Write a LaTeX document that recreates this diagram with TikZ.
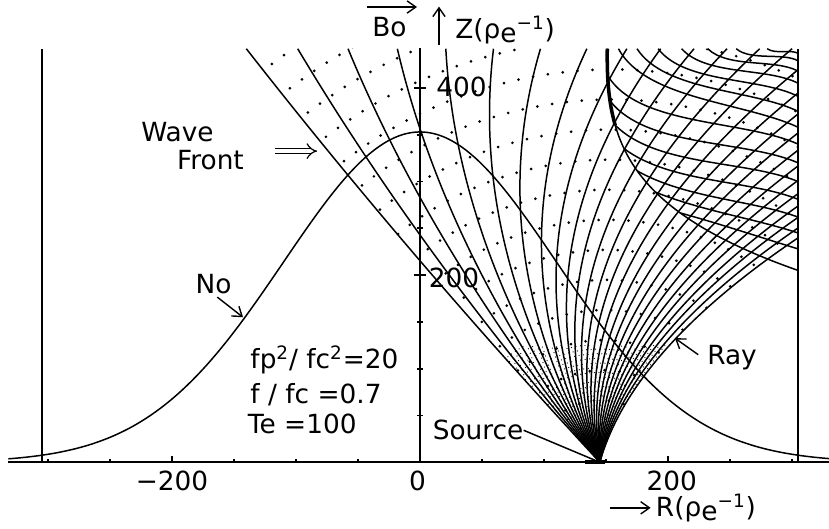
\documentclass[tikz,border=0pt]{standalone}
\usepackage{fontspec}
\setmainfont{DejaVu Sans}
\usetikzlibrary{arrows.meta}

\begin{document}
\begin{tikzpicture}[x=0.0248cm, y=0.0187cm,
  ray/.style={line width=0.85pt},
  axis/.style={line width=1pt},
  front/.style={line width=1.7pt, line cap=round, dash pattern=on 0pt off 8.5pt},
  speck/.style={line width=0.7pt, line cap=round, dash pattern=on 0pt off 2.6pt},
  lbl/.style={inner sep=0pt, font=\fontsize{15}{17}\selectfont},
  barb/.style={line width=0.8pt, -{Straight Barb[length=5pt,width=7pt]}}]
\useasboundingbox (-338.7,-70.6) rectangle (329.8,494.1);

% frame and axes
\draw[axis] (-332,0) -- (330,0);
\draw[axis] (-305,0) -- (-305,442);
\draw[axis] (305,0) -- (305,442);
\draw[axis] (0,0) -- (0,443);
\foreach \r in {-300,-250,...,300} \draw[axis] (\r,0) -- (\r,3);
\foreach \r in {-200,200} \draw[axis] (\r,0) -- (\r,7);
\foreach \z in {50,100,...,400} \draw[axis] (-2.5,\z) -- (2.5,\z);
\foreach \z in {200,400} \draw[axis] (-5,\z) -- (5,\z);

% density profile No
\draw[ray] plot[domain=-332:330, samples=150, smooth] (\x, {353*exp(-0.5*(\x/110)*(\x/110))});

% source
\coordinate (src) at (145,0);
\draw[line width=2.4pt] (133,0) -- (149,0);

% wave fronts
\begin{scope}
\clip plot[domain=0:442, samples=30] ({145-0.7002*\x+1.25*(\x/100)*(\x/100)}, \x) -- (305,442) -- (305,240)
  -- plot[domain=240:0, samples=30] ({145+0.2126*\x+18.9*(\x/100)*(\x/100)}, \x) -- cycle;
\foreach \t in {34,66,...,610}
  \draw[front, rotate around={15:(src)}] (src) ellipse[x radius=0.8*\t, y radius=\t];
\clip (-340,0) rectangle (305,125);
\foreach \t in {16,21,...,150}
  \draw[speck] (src) ellipse[x radius=0.8*\t, y radius=\t];
\end{scope}

% rays
\begin{scope}
\clip (-340,-1) rectangle (305,442);
\foreach \i in {0,...,25}{
  \pgfmathsetmacro\u{\i/25}
  \pgfmathsetmacro\T{tan(-35+47*\u)}
  \pgfmathsetmacro\K{\u<0.3 ? 1.25+26*\u : 9.05+14.1*(\u-0.3)}
  \draw[ray] plot[domain=0:442, samples=45, smooth] ({145+\T*\x+\K*(\x/100)*(\x/100)}, \x);
}
% caustic and returning rays
\draw[ray] (151,442) .. controls (150,345) and (165,270) .. (305,205);
\draw[ray, line width=2pt] (151,442) .. controls (150.7,412.9) and (151.84,385.78) .. (157.39,360.3);
\foreach \sr/\sz/\ha/\ez/\hb in {209.8/266.5/70/228/68, 190.1/288.6/62/245/66,
    175.1/311.5/53/262/64, 164.4/335.4/45/281/62, 157.4/360.3/37/300/61,
    153.2/386.4/30/320/60, 151.3/413.5/24/340/59, 160/442/22/358/58,
    175/442/26/375/57, 192/442/30/391/56, 211/442/34/405/55,
    232/442/38/418/54, 255/442/42/429/53, 280/442/46/437/52}{
  \pgfmathsetmacro\ch{veclen(305-\sr,\ez-\sz)}
  \draw[ray] (\sr,\sz) .. controls +({\ha-90}:{0.35*\ch}) and +({90+\hb}:{0.3*\ch}) .. (305,\ez);
}
\end{scope}

% labels
\node[lbl] (m200) at (-200,-20) {−200};
\node[lbl] (zero) at (-2,-20) {0};
\node[lbl] (p200) at (203,-20) {200};
\node[lbl] (z200) at (27.4,196.8) {200};
\node[lbl] (z400) at (33.5,401) {400};

\node[lbl] (bo) at (-24.6,464.7) {Bo};
\coordinate (bol) at (-42.7,486.6);
\coordinate (bor) at (-2.4,486.6);
\draw[barb] (bol) -- (bor);
\coordinate (zb) at (15.3,446);
\coordinate (zt) at (15.3,487);
\draw[barb] (zb) -- (zt);
\node[lbl, anchor=west] (zlab) at (28.2,462) {Z(ρ\raisebox{-0.3ex}{e}\textsuperscript{−1})};

\coordinate (rb) at (153,-48.7);
\coordinate (rt) at (186,-48.7);
\draw[barb] (rb) -- (rt);
\node[lbl, anchor=west] (rlab) at (190,-48.7) {R(ρ\raisebox{-0.3ex}{e}\textsuperscript{−1})};

\node[lbl] (wave) at (-195.6,353) {Wave};
\node[lbl] (front) at (-169,323) {Front};
\coordinate (wfs) at (-117,332.6);
\coordinate (wft) at (-83,332.6);
\draw[double, double distance=2.4pt, line width=0.7pt, -{Implies}] (wfs) -- (wft);

\node[lbl] (no) at (-166.5,190.4) {No};
\coordinate (nop) at (-142.7,155);
\draw[barb] ([shift={(3,-3)}]no.south) -- (nop);

\node[lbl, anchor=base west] (fp) at (-137,100.5) {fp\textsuperscript{2}/ fc\textsuperscript{2}=20};
\node[lbl, anchor=base west] (ff) at (-137,63) {f / fc =0.7};
\node[lbl, anchor=base west] (te) at (-139,31) {Te =100};

\node[lbl] (source) at (46.8,34.2) {Source};
\draw[ray] (source.east) -- (src);

\node[lbl] (raylab) at (251.6,112) {Ray};
\coordinate (rayp) at (205.6,132.6);
\draw[barb] ([shift={(-7,3)}]raylab.west) -- (rayp);
\end{tikzpicture}
\end{document}
